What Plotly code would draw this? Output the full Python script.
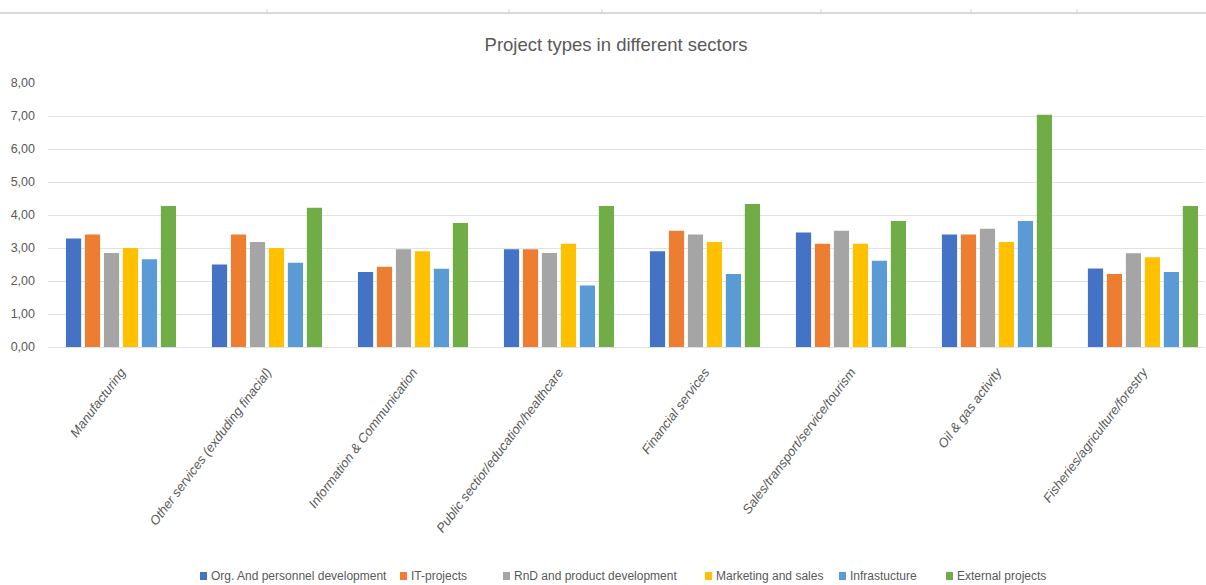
import plotly.graph_objects as go

# Sectors along the x axis
sectors = [
    "Manufacturing",
    "Other services (exduding finacial)",
    "Information & Communication",
    "Public sectior/education/healthcare",
    "Financial services",
    "Sales/transport/service/tourism",
    "Oil & gas activity",
    "Fisheries/agriculture/forestry",
]

# Average score per project type and sector
org_personnel = [3.29, 2.50, 2.27, 2.96, 2.90, 3.47, 3.41, 2.38]
it_projects = [3.41, 3.41, 2.43, 2.96, 3.52, 3.13, 3.41, 2.21]
rnd_product = [2.85, 3.18, 2.96, 2.85, 3.41, 3.52, 3.58, 2.84]
marketing_sales = [3.00, 3.00, 2.90, 3.13, 3.18, 3.13, 3.18, 2.72]
infrastructure = [2.66, 2.55, 2.37, 1.86, 2.21, 2.61, 3.82, 2.27]
external = [4.27, 4.22, 3.76, 4.27, 4.33, 3.82, 7.04, 4.27]

series_names = [
    "Org. And personnel development",
    "IT-projects",
    "RnD and product development",
    "Marketing and sales",
    "Infrastucture",
    "External projects",
]
series_values = [org_personnel, it_projects, rnd_product, marketing_sales, infrastructure, external]
colors = ["#4472C4", "#ED7D31", "#A5A5A5", "#FFC000", "#5B9BD5", "#70AD47"]

text_color = "#595959"
grid_color = "#DEE2EA"
font_family = "Liberation Sans, Arial, sans-serif"

fig = go.Figure()
for name, vals, col in zip(series_names, series_values, colors):
    fig.add_trace(go.Bar(x=sectors, y=vals, name=name, showlegend=False,
                         marker=dict(color=col, line=dict(width=0))))

# Pixel frame of the plotting area
W, H, L, R, T, B = 1206, 585, 48, 1205, 83, 347
pw, ph = R - L, B - T


def px_x(x):
    return (x - L) / pw


def px_y(y):
    return (B - y) / ph


# Thin rule with small marks along the top edge of the sheet
shapes = [dict(type="line", xref="paper", yref="paper", x0=px_x(0), x1=px_x(W),
               y0=px_y(13), y1=px_y(13), line=dict(color="#D9D9D9", width=2))]
for tx in [267, 509, 602, 821, 971, 1077]:
    shapes.append(dict(type="line", xref="paper", yref="paper", x0=px_x(tx), x1=px_x(tx),
                       y0=px_y(9), y1=px_y(13), line=dict(color="#D0D0D0", width=1)))

# Compact legend row under the chart: small square + label per series
legend_left = [200, 400, 503, 705, 839, 946]
legend_y = 576
annotations = []
for x0, name, col in zip(legend_left, series_names, colors):
    shapes.append(dict(type="rect", xref="paper", yref="paper",
                       x0=px_x(x0), x1=px_x(x0 + 7), y0=px_y(legend_y + 4), y1=px_y(legend_y - 4),
                       fillcolor=col, line=dict(width=0)))
    annotations.append(dict(text=name, xref="paper", yref="paper", x=px_x(x0 + 9), y=px_y(legend_y),
                            xanchor="left", yanchor="middle", showarrow=False,
                            font=dict(size=12, color=text_color, family=font_family)))

fig.update_layout(
    width=W,
    height=H,
    margin=dict(l=L, r=W - R, t=T, b=H - B),
    paper_bgcolor="white",
    plot_bgcolor="white",
    separators=",.",
    barmode="group",
    bargap=0.22,
    bargroupgap=0.2,
    showlegend=False,
    font=dict(family=font_family, color=text_color),
    title=dict(text="Project types in different sectors", x=px_x(616), xref="paper", xanchor="center",
               y=1 - 45 / H, yanchor="middle", font=dict(size=18.5, color=text_color, family=font_family)),
    xaxis=dict(
        type="category",
        range=[-0.5, 7.425],
        tickangle=-53,
        tickfont=dict(size=13, color=text_color, style="italic", family=font_family),
        ticklabelstandoff=14,
        showgrid=False,
        showline=False,
        ticks="",
        automargin=False,
    ),
    yaxis=dict(
        range=[0, 8],
        dtick=1,
        tickformat=".2f",
        tickfont=dict(size=12.5, color=text_color, family=font_family),
        ticklabelstandoff=12,
        gridcolor=grid_color,
        gridwidth=1,
        zeroline=True,
        zerolinecolor=grid_color,
        zerolinewidth=1,
        showline=False,
        ticks="",
        automargin=False,
    ),
    shapes=shapes,
    annotations=annotations,
)

fig.write_html("out.html")
